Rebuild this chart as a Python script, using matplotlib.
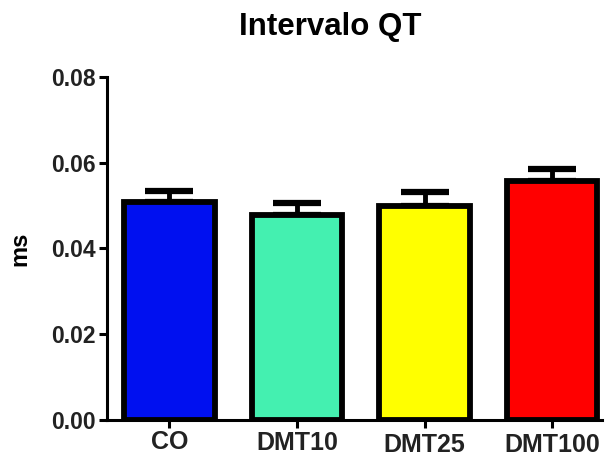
import matplotlib.pyplot as plt
from matplotlib.transforms import ScaledTranslation

plt.rcParams['font.family'] = ['Liberation Sans', 'DejaVu Sans']

groups = ["CO", "DMT10", "DMT25", "DMT100"]
means = [0.0508, 0.0477, 0.0498, 0.0557]
errors = [0.0025, 0.0029, 0.0034, 0.0028]
colors = ["#0010F0", "#44F0B0", "#FFFF00", "#FF0000"]
label_shift = [0, -1, -3, -3]  # px, labels sit at slightly different heights

fig = plt.figure(figsize=(6.11, 4.58), dpi=100)
ax = fig.add_axes([0.175, 0.083, 0.81, 0.749])

x = range(len(groups))
ax.bar(x, means, width=0.71, color=colors, edgecolor="black", linewidth=4.2, zorder=2)
ax.errorbar(x, means, yerr=[[0] * len(errors), errors], fmt="none", ecolor="black",
            elinewidth=3.5, capsize=17, capthick=4.5, zorder=1)

ax.set_xlim(-0.49, 3.39)
ax.set_ylim(0, 0.08)
ax.set_yticks([0.00, 0.02, 0.04, 0.06, 0.08])
ax.set_yticklabels(["0.00", "0.02", "0.04", "0.06", "0.08"])
ax.set_xticks(list(x))
ax.set_xticklabels(groups)

for side in ["top", "right"]:
    ax.spines[side].set_visible(False)
for side in ["left", "bottom"]:
    ax.spines[side].set_linewidth(2.2)

ax.tick_params(axis="both", width=2.2, length=6)
ax.tick_params(axis="y", labelsize=16.5, pad=2)
ax.tick_params(axis="x", labelsize=18, pad=1)
for lab in ax.get_yticklabels() + ax.get_xticklabels():
    lab.set_fontweight("bold")
    lab.set_color("#222222")
for lab, dy in zip(ax.get_xticklabels(), label_shift):
    lab.set_transform(lab.get_transform() + ScaledTranslation(0, dy / 100, fig.dpi_scale_trans))

ax.set_ylabel("ms", fontsize=17, fontweight="bold", labelpad=14)
fig.text(0.54, 0.941, "Intervalo QT", ha="center", va="center", fontsize=22.5, fontweight="bold")

fig.savefig("out.png", dpi=100)
